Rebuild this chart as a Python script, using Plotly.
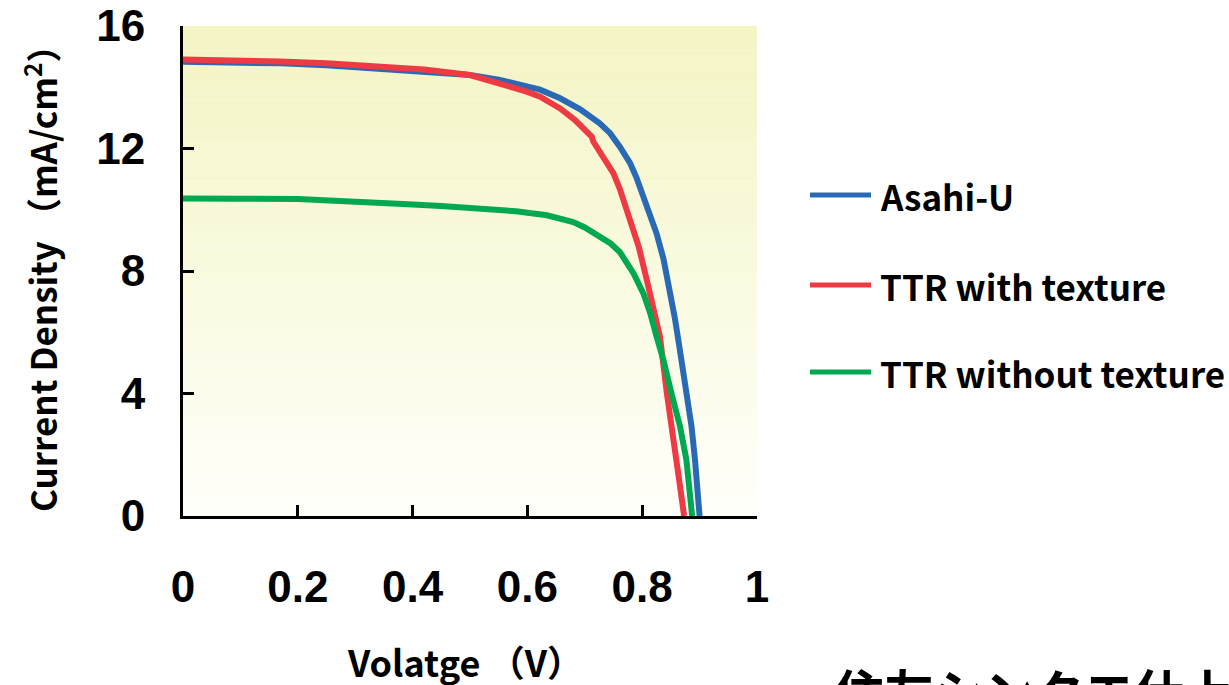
import plotly.graph_objects as go

# ---- data ----
v_asahi = [0, 0.05, 0.10, 0.17, 0.25, 0.34, 0.42, 0.50, 0.55, 0.60, 0.622, 0.657, 0.692, 0.726,
           0.744, 0.761, 0.779, 0.790, 0.808, 0.825, 0.837, 0.848, 0.857, 0.864, 0.870, 0.877,
           0.886, 0.892, 0.896, 0.900]
j_asahi = [14.83, 14.82, 14.80, 14.78, 14.72, 14.62, 14.52, 14.40, 14.25, 14.05, 13.92, 13.64,
           13.28, 12.82, 12.50, 12.06, 11.52, 11.05, 10.15, 9.23, 8.40, 7.40, 6.45, 5.62, 4.90,
           4.00, 2.92, 1.83, 1.00, 0.00]

v_ttr_tex = [0, 0.05, 0.10, 0.17, 0.25, 0.34, 0.42, 0.50, 0.55, 0.60, 0.622, 0.657, 0.683, 0.712,
             0.715, 0.733, 0.750, 0.761, 0.779, 0.794, 0.808, 0.819, 0.831, 0.843, 0.854, 0.866,
             0.873]
j_ttr_tex = [14.91, 14.90, 14.88, 14.84, 14.78, 14.69, 14.58, 14.40, 14.15, 13.85, 13.69, 13.31,
             12.93, 12.39, 12.22, 11.73, 11.19, 10.68, 9.67, 8.79, 7.71, 6.83, 5.85, 4.00, 2.37,
             0.96, 0.00]

v_ttr_notex = [0, 0.05, 0.10, 0.20, 0.30, 0.383, 0.45, 0.517, 0.58, 0.634, 0.68, 0.70, 0.726,
               0.745, 0.761, 0.775, 0.785, 0.802, 0.814, 0.825, 0.837, 0.851, 0.866, 0.877,
               0.883, 0.887]
j_ttr_notex = [10.37, 10.38, 10.36, 10.35, 10.28, 10.19, 10.12, 10.05, 9.95, 9.82, 9.60, 9.42,
               9.12, 8.90, 8.62, 8.25, 7.92, 7.27, 6.62, 5.86, 5.09, 4.00, 2.92, 1.83, 0.90, 0.00]

series_names = ["Asahi-U", "TTR with texture", "TTR without texture"]
series_colors = ["#2a6ab5", "#ee3a43", "#00a84f"]

x_ticks = [0, 0.2, 0.4, 0.6, 0.8, 1.0]
x_ticktext = ["0", "0.2", "0.4", "0.6", "0.8", "1"]
y_ticks = [0, 4, 8, 12, 16]
y_ticktext = ["0", "4", "8", "12", "16"]

# ---- layout constants ----
W, H = 1229, 685
L, R, T, B = 183, 757, 26, 516
PW, PH = R - L, B - T

def px_x(px):
    return (px - L) / PW

def px_y(py):
    return (B - py) / PH

FONT = "Noto Sans CJK JP, sans-serif"
TICKFONT = "Liberation Sans, Arial, sans-serif"

fig = go.Figure()
data = [(v_asahi, j_asahi), (v_ttr_tex, j_ttr_tex), (v_ttr_notex, j_ttr_notex)]
for idx in [0, 1, 2]:
    xs, ys = data[idx]
    fig.add_trace(go.Scatter(x=xs, y=ys, mode="lines", name=series_names[idx],
                             line=dict(color=series_colors[idx], width=6),
                             showlegend=False, cliponaxis=False, hoverinfo="skip"))

shapes = []
# background gradient (pale yellow top -> near white bottom)
n = 60
top_c = (244, 244, 196)
bot_c = (255, 255, 250)
for i in range(n):
    f = i / (n - 1)
    c = tuple(round(top_c[k] + (bot_c[k] - top_c[k]) * f) for k in range(3))
    shapes.append(dict(type="rect", xref="paper", yref="paper",
                       x0=0, x1=1, y0=1 - (i + 1) / n, y1=1 - i / n,
                       fillcolor="rgb(%d,%d,%d)" % c, line=dict(width=0), layer="below"))

# custom legend
legend_y = [195, 285, 372]
annotations = []
for name, col, ly in zip(series_names, series_colors, legend_y):
    shapes.append(dict(type="line", xref="paper", yref="paper",
                       x0=px_x(810), x1=px_x(871), y0=px_y(ly), y1=px_y(ly),
                       line=dict(color=col, width=5)))
    annotations.append(dict(text=name, xref="paper", yref="paper", x=px_x(878), y=px_y(ly),
                            xanchor="left", yanchor="middle", showarrow=False,
                            font=dict(family=FONT, size=35, color="black", weight="bold")))

# axis titles
annotations.append(dict(text="Current Density （mA/cm<sup>2</sup>）", xref="paper", yref="paper",
                        x=px_x(40), y=px_y(270), textangle=-90, showarrow=False,
                        xanchor="center", yanchor="middle",
                        font=dict(family=FONT, size=35, color="black", weight="bold")))
annotations.append(dict(text="Volatge （V）", xref="paper", yref="paper",
                        x=px_x(465), y=px_y(661), showarrow=False,
                        xanchor="center", yanchor="middle",
                        font=dict(family=FONT, size=36, color="black", weight="bold")))
# cut-off Japanese text at bottom right
annotations.append(dict(text="住友シンクエ仕上の", xref="paper", yref="paper",
                        x=px_x(832), y=px_y(652), showarrow=False,
                        xanchor="left", yanchor="top",
                        font=dict(family=FONT, size=50, color="black", weight="bold")))

fig.update_layout(
    width=W, height=H,
    margin=dict(l=L, r=W - R, t=T, b=H - B, pad=0, autoexpand=False),
    paper_bgcolor="white", plot_bgcolor="white",
    shapes=shapes, annotations=annotations,
    showlegend=False,
)
fig.update_xaxes(range=[0, 1], tickvals=x_ticks, ticktext=x_ticktext, automargin=False,
                 showgrid=False, zeroline=False, showline=True, linecolor="black", linewidth=3,
                 ticks="inside", ticklen=11, tickwidth=3, tickcolor="black",
                 ticklabelstandoff=30,
                 tickfont=dict(family=TICKFONT, size=44, color="black", weight="bold"))
fig.update_yaxes(range=[0, 16], tickvals=y_ticks, ticktext=y_ticktext, automargin=False,
                 showgrid=False, zeroline=False, showline=True, linecolor="black", linewidth=3,
                 ticks="inside", ticklen=11, tickwidth=3, tickcolor="black",
                 ticklabelstandoff=26,
                 tickfont=dict(family=TICKFONT, size=44, color="black", weight="bold"))

fig.write_html("out.html", config={"displayModeBar": False},
               post_script="document.body.style.margin='0';document.body.style.overflow='hidden';")
